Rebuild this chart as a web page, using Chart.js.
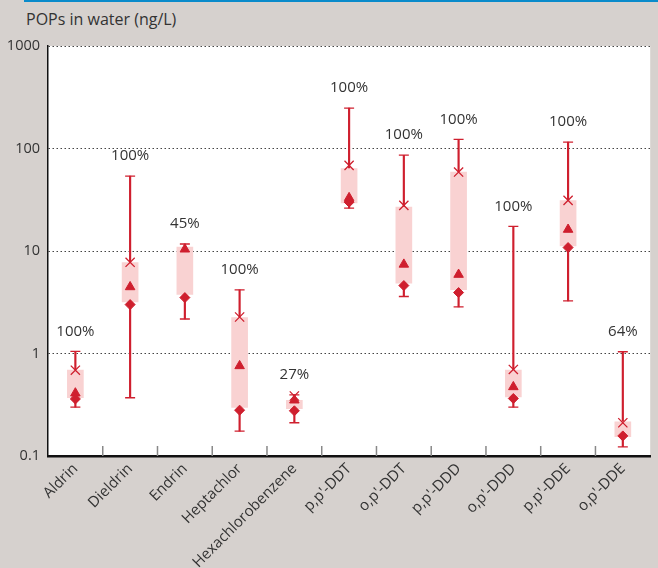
<!DOCTYPE html>
<html>
<head>
<meta charset="utf-8">
<script src="https://cdn.jsdelivr.net/npm/chart.js@4"></script>
<style>
  html, body { margin: 0; padding: 0; background: #d6d1ce; }
  #wrap { position: relative; width: 658px; height: 568px; }
  #topline { position: absolute; left: 24px; top: 0; width: 634px; height: 2px; background: #0a8bcb; }
  #title { position: absolute; left: 26px; top: 8px; font: 16px "Open Sans", sans-serif; color: #333; }
  canvas { position: absolute; left: 0; top: 0; }
</style>
</head>
<body>
<div id="wrap">
  <div id="topline"></div>
  <div id="title">POPs in water (ng/L)</div>
  <canvas id="popsChart" width="658" height="568"></canvas>
</div>
<script>
// chart data (ng/L)
const compounds = ['Aldrin', 'Dieldrin', 'Endrin', 'Heptachlor', 'Hexachlorobenzene',
  "p,p'-DDT", "o,p'-DDT", "p,p'-DDD", "o,p'-DDD", "p,p'-DDE", "o,p'-DDE"];
const minVals    = [0.30, 0.37, 2.17, 0.175, 0.211, 26.2, 3.6, 2.85, 0.30, 3.26, 0.123];
const maxVals    = [1.05, 53.8, 11.7, 4.17, 0.395, 248, 86, 122.7, 17.4, 115.4, 1.04];
const boxLow     = [0.37, 3.18, 3.76, 0.298, 0.29, 29.4, 4.85, 4.2, 0.378, 11.2, 0.154];
const boxHigh    = [0.69, 7.7, 10.9, 2.24, 0.35, 63.6, 26.8, 59, 0.69, 31, 0.216];
const crossVals  = [0.687, 7.76, null, 2.27, 0.385, 68.4, 27.9, 58.9, 0.699, 31.2, 0.211];
const triVals    = [0.41, 4.46, 10.4, 0.757, 0.35, 33, 7.4, 5.89, 0.472, 16.2, null];
const diamVals   = [0.36, 3.0, 3.51, 0.28, 0.276, 30, 4.6, 3.93, 0.364, 10.8, 0.157];
const detection  = ['100%', '100%', '45%', '100%', '27%', '100%', '100%', '100%', '100%', '100%', '64%'];
const yTicks     = [0.1, 1, 10, 100, 1000];
const yTickLabels = ['0.1', '1', '10', '100', '1000'];

const RED = '#cf1f2e';
const PINK = '#f9d2d2';
const FONT = '"Open Sans", sans-serif';

// white plot area
const plotBg = {
  id: 'plotBg',
  beforeDraw(chart) {
    const a = chart.chartArea, ctx = chart.ctx;
    ctx.save();
    ctx.fillStyle = '#fff';
    ctx.fillRect(a.left, a.top, a.right - a.left, a.bottom - a.top);
    ctx.restore();
  }
};

// small grey ticks between categories, pointing up into the plot
const innerTicks = {
  id: 'innerTicks',
  afterDraw(chart) {
    const x = chart.scales.x, a = chart.chartArea, ctx = chart.ctx;
    ctx.save();
    ctx.strokeStyle = '#888';
    ctx.lineWidth = 1.5;
    for (let i = 1; i < compounds.length; i++) {
      const px = (x.getPixelForValue(i - 1) + x.getPixelForValue(i)) / 2;
      ctx.beginPath();
      ctx.moveTo(px, a.bottom);
      ctx.lineTo(px, a.bottom - 10);
      ctx.stroke();
    }
    ctx.restore();
  }
};

// detection frequency labels above the upper whisker
const pctLabels = {
  id: 'pctLabels',
  afterDatasetsDraw(chart) {
    const x = chart.scales.x, y = chart.scales.y, ctx = chart.ctx;
    ctx.save();
    ctx.font = '15px ' + FONT;
    ctx.fillStyle = '#333';
    ctx.textAlign = 'center';
    ctx.textBaseline = 'middle';
    detection.forEach((t, i) => {
      ctx.fillText(t, x.getPixelForValue(i), y.getPixelForValue(maxVals[i]) - 20);
    });
    ctx.restore();
  }
};

function markers(label, data, style, radius, filled, order) {
  return {
    type: 'line', label, data, showLine: false, order,
    pointStyle: style, pointRadius: radius, pointHoverRadius: radius,
    borderColor: RED, backgroundColor: filled ? RED : 'transparent',
    pointBorderWidth: filled ? 1 : 1.3
  };
}

function whisker(label, data) {
  return { type: 'bar', label, data, backgroundColor: RED, barThickness: 1.5, grouped: false, order: 5 };
}

new Chart(document.getElementById('popsChart'), {
  data: {
    labels: compounds,
    datasets: [
      whisker('lower', minVals.map((v, i) => [v, boxLow[i]])),
      whisker('upper', maxVals.map((v, i) => [boxHigh[i], v])),
      { type: 'bar', label: 'box', data: boxLow.map((v, i) => [v, boxHigh[i]]),
        backgroundColor: PINK, barThickness: 16, grouped: false, order: 4 },
      markers('max', maxVals, 'line', 5, false, 3),
      markers('min', minVals, 'line', 5, false, 3),
      markers('cross', crossVals, 'crossRot', 6.5, false, 2),
      markers('triangle', triVals, 'triangle', 5.5, true, 1),
      markers('diamond', diamVals, 'rectRot', 5, true, 0)
    ]
  },
  options: {
    responsive: false,
    animation: false,
    layout: { padding: { top: 46, left: 0, right: -2, bottom: 0 } },
    elements: { line: { borderWidth: 2 } },
    plugins: { legend: { display: false }, tooltip: { enabled: false }, title: { display: false } },
    scales: {
      x: {
        type: 'category',
        offset: true,
        grid: { display: false, drawTicks: false },
        border: { display: true, color: '#111', width: 2.5 },
        ticks: { minRotation: 45, maxRotation: 45, padding: 4, color: '#333', font: { family: FONT, size: 15 } },
        afterFit(scale) { scale.height = 112; }
      },
      y: {
        type: 'logarithmic',
        min: 0.1,
        max: 1000,
        afterBuildTicks(scale) { scale.ticks = yTicks.map(v => ({ value: v })); },
        grid: { color: '#444', lineWidth: 1, drawTicks: false },
        border: { display: true, color: '#111', width: 1.5, dash: [1.5, 2.5] },
        ticks: {
          padding: 8, color: '#333', font: { family: FONT, size: 14.5 },
          callback: (v) => { const k = yTicks.indexOf(v); return k >= 0 ? yTickLabels[k] : ''; }
        },
        afterFit(scale) { scale.width = 48; }
      }
    }
  },
  plugins: [plotBg, innerTicks, pctLabels]
});
</script>
</body>
</html>
